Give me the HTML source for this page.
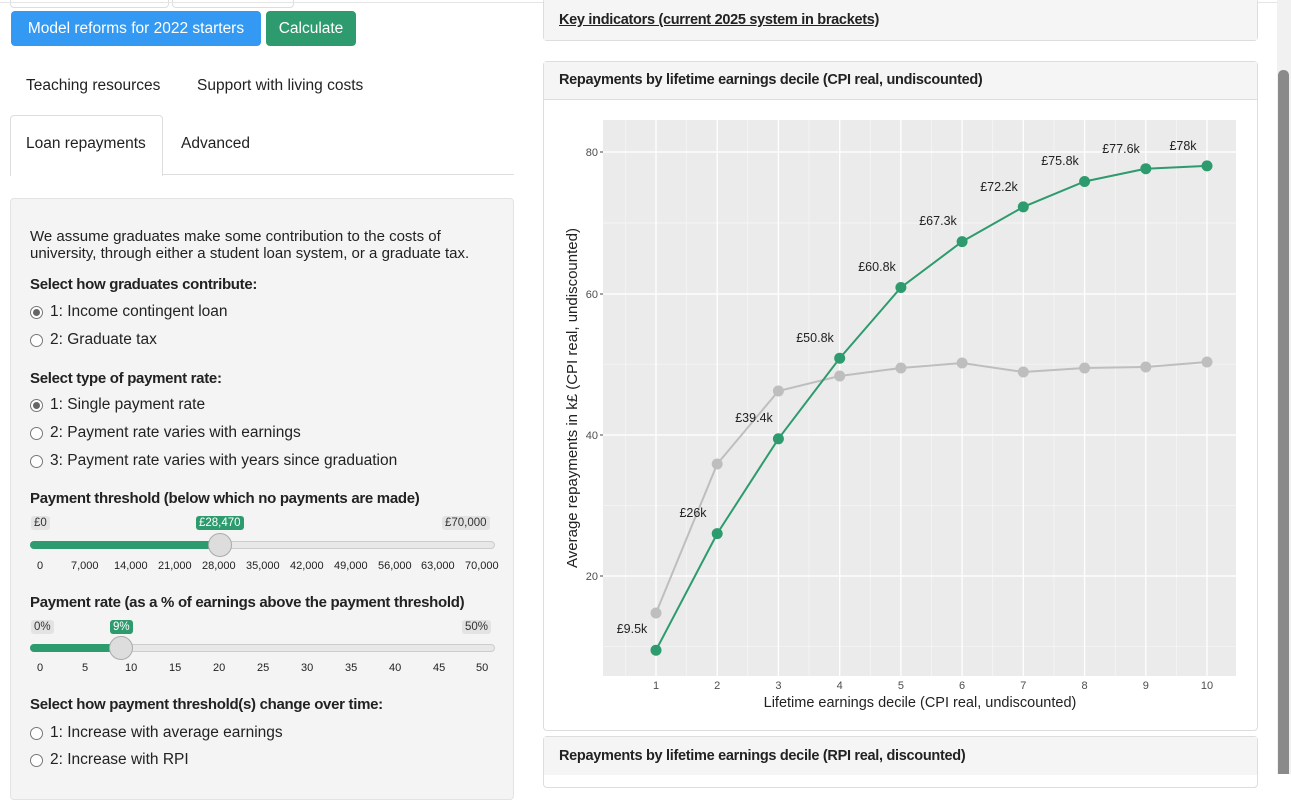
<!DOCTYPE html>
<html><head><meta charset="utf-8"><style>
body{margin:0;width:1291px;height:774px;overflow:hidden;background:#fff;font-family:"Liberation Sans",sans-serif;color:#222;position:relative}
.a{position:absolute;white-space:nowrap}
.btn{position:absolute;top:11px;height:35px;border-radius:4px;color:#fff;font-size:15.5px;line-height:35px;text-align:center}
.rad{position:absolute;width:11px;height:11px;border:1px solid #777;border-radius:50%;background:#fff;left:30px}
.rad.on::after{content:"";position:absolute;left:2px;top:2px;width:7px;height:7px;border-radius:50%;background:#666}
.t15{font-size:15.5px}
.b{font-weight:bold;font-size:15px;letter-spacing:-0.3px}
.tag{position:absolute;background:#e3e3e3;font-size:11.5px;padding:1px 3px;border-radius:3px;color:#333}
.tagg{position:absolute;background:#2e9b6e;font-size:11.5px;padding:1px 3px;border-radius:3px;color:#fff}
.panel{position:absolute;left:543px;width:713px;border:1px solid #ddd;border-radius:4px;background:#fff}
.ph{background:#f5f5f5;border-bottom:1px solid #ddd;font-weight:bold;font-size:14.5px;padding-left:15px;letter-spacing:-0.3px}
.tk{font-size:11px}
</style></head><body>
<div class="a" style="left:10px;top:-6px;width:157px;height:12px;border:1px solid #ddd;border-radius:4px"></div>
<div class="a" style="left:172px;top:-6px;width:120px;height:12px;border:1px solid #ddd;border-radius:4px"></div>
<div class="a" style="left:0;top:2px;width:1280px;border-top:1px solid #e5e5e5"></div>
<div class="btn" style="left:11px;width:250px;background:#3399f3">Model reforms for 2022 starters</div>
<div class="btn" style="left:266px;width:90px;background:#2e9b6e">Calculate</div>
<div class="a t15" style="left:26px;top:77px">Teaching resources</div>
<div class="a t15" style="left:197px;top:77px">Support with living costs</div>
<div class="a" style="left:10px;top:115px;width:151px;height:60px;border:1px solid #ddd;border-bottom:none;border-radius:4px 4px 0 0;background:#fff"></div>
<div class="a" style="left:162px;top:174px;width:352px;border-top:1px solid #ddd"></div>
<div class="a t15" style="left:26px;top:135px">Loan repayments</div>
<div class="a t15" style="left:181px;top:135px">Advanced</div>
<div class="a" style="left:10px;top:198px;width:502px;height:600px;background:#f4f4f4;border:1px solid #e3e3e3;border-radius:4px"></div>
<div class="a" style="left:30px;top:228px;line-height:17px;font-size:15px">We assume graduates make some contribution to the costs of<br>university, through either a student loan system, or a graduate tax.</div>
<div class="a b" style="left:30px;top:276px">Select how graduates contribute:</div>
<div class="rad on" style="top:306px"></div><div class="a t15" style="left:50px;top:303px">1: Income contingent loan</div>
<div class="rad" style="top:334px"></div><div class="a t15" style="left:50px;top:331px">2: Graduate tax</div>
<div class="a b" style="left:30px;top:370px">Select type of payment rate:</div>
<div class="rad on" style="top:399px"></div><div class="a t15" style="left:50px;top:396px">1: Single payment rate</div>
<div class="rad" style="top:427px"></div><div class="a t15" style="left:50px;top:424px">2: Payment rate varies with earnings</div>
<div class="rad" style="top:455px"></div><div class="a t15" style="left:50px;top:452px">3: Payment rate varies with years since graduation</div>
<div class="a b" style="left:30px;top:490px">Payment threshold (below which no payments are made)</div>
<div class="tag" style="left:31px;top:516px">£0</div>
<div class="tagg" style="left:196px;top:516px">£28,470</div>
<div class="tag" style="left:442px;top:516px">£70,000</div>
<div class="a" style="left:30px;top:541px;width:463px;height:6px;background:#e8e8e8;border:1px solid #ccc;border-radius:4px"></div>
<div class="a" style="left:30px;top:541px;width:190px;height:8px;background:#2e9b6e;border-radius:4px"></div>
<div class="a" style="left:208px;top:533px;width:22px;height:22px;border-radius:50%;background:#ddd;border:1px solid #aaa"></div>
<div class="a tk" style="left:0;top:560px;width:520px">
<span class="a" style="left:37px">0</span><span class="a" style="left:71px">7,000</span><span class="a" style="left:114px">14,000</span><span class="a" style="left:158px">21,000</span><span class="a" style="left:202px">28,000</span><span class="a" style="left:246px">35,000</span><span class="a" style="left:290px">42,000</span><span class="a" style="left:334px">49,000</span><span class="a" style="left:378px">56,000</span><span class="a" style="left:421px">63,000</span><span class="a" style="left:465px">70,000</span></div>
<div class="a b" style="left:30px;top:594px">Payment rate (as a % of earnings above the payment threshold)</div>
<div class="tag" style="left:31px;top:620px">0%</div>
<div class="tagg" style="left:110px;top:620px">9%</div>
<div class="tag" style="left:462px;top:620px">50%</div>
<div class="a" style="left:30px;top:644px;width:463px;height:6px;background:#e8e8e8;border:1px solid #ccc;border-radius:4px"></div>
<div class="a" style="left:30px;top:644px;width:100px;height:8px;background:#2e9b6e;border-radius:4px"></div>
<div class="a" style="left:109px;top:636px;width:22px;height:22px;border-radius:50%;background:#ddd;border:1px solid #aaa"></div>
<div class="a tk" style="left:0;top:662px;width:520px">
<span class="a" style="left:37px">0</span><span class="a" style="left:82px">5</span><span class="a" style="left:125px">10</span><span class="a" style="left:169px">15</span><span class="a" style="left:213px">20</span><span class="a" style="left:257px">25</span><span class="a" style="left:301px">30</span><span class="a" style="left:345px">35</span><span class="a" style="left:389px">40</span><span class="a" style="left:433px">45</span><span class="a" style="left:476px">50</span></div>
<div class="a b" style="left:30px;top:696px">Select how payment threshold(s) change over time:</div>
<div class="rad" style="top:727px"></div><div class="a t15" style="left:50px;top:724px">1: Increase with average earnings</div>
<div class="rad" style="top:754px"></div><div class="a t15" style="left:50px;top:751px">2: Increase with RPI</div>

<div class="panel" style="top:-2px;height:42px;border-top:none"><div class="ph" style="height:42px;line-height:44px;border:none;text-decoration:underline">Key indicators (current 2025 system in brackets)</div></div>
<div class="panel" style="top:61px;height:668px"><div class="ph" style="height:37px;line-height:37px">Repayments by lifetime earnings decile (CPI real, undiscounted)</div></div>
<div class="panel" style="top:736px;height:50px"><div class="ph" style="height:38px;line-height:38px;border:none">Repayments by lifetime earnings decile (RPI real, discounted)</div></div>
<div class="a" style="left:1277px;top:0;width:14px;height:774px;background:#f1f1f1"></div>
<div class="a" style="left:1278px;top:70px;width:11px;height:704px;background:#8a8a8a;border-radius:5px 5px 0 0"></div>

<svg class="a" style="left:0;top:0" width="1291" height="774" font-family="Liberation Sans, sans-serif">
<rect x="603" y="120" width="633" height="556" fill="#ebebeb"/>
<g stroke="#f7f7f7" stroke-width="0.7">
<line x1="603" x2="1236" y1="646.7" y2="646.7"/><line x1="603" x2="1236" y1="505.3" y2="505.3"/><line x1="603" x2="1236" y1="364.2" y2="364.2"/><line x1="603" x2="1236" y1="223" y2="223"/>
<line y1="120" y2="676" x1="625.4" x2="625.4"/><line y1="120" y2="676" x1="686.6" x2="686.6"/><line y1="120" y2="676" x1="747.8" x2="747.8"/><line y1="120" y2="676" x1="809" x2="809"/><line y1="120" y2="676" x1="870.3" x2="870.3"/><line y1="120" y2="676" x1="931.5" x2="931.5"/><line y1="120" y2="676" x1="992.7" x2="992.7"/><line y1="120" y2="676" x1="1054" x2="1054"/><line y1="120" y2="676" x1="1115.2" x2="1115.2"/><line y1="120" y2="676" x1="1176.4" x2="1176.4"/>
</g>
<g stroke="#fff" stroke-width="1.3">
<line x1="603" x2="1236" y1="576" y2="576"/><line x1="603" x2="1236" y1="435" y2="435"/><line x1="603" x2="1236" y1="294" y2="294"/><line x1="603" x2="1236" y1="152" y2="152"/>
<line y1="120" y2="676" x1="656" x2="656"/><line y1="120" y2="676" x1="717.2" x2="717.2"/><line y1="120" y2="676" x1="778.4" x2="778.4"/><line y1="120" y2="676" x1="839.7" x2="839.7"/><line y1="120" y2="676" x1="900.9" x2="900.9"/><line y1="120" y2="676" x1="962.1" x2="962.1"/><line y1="120" y2="676" x1="1023.3" x2="1023.3"/><line y1="120" y2="676" x1="1084.6" x2="1084.6"/><line y1="120" y2="676" x1="1145.8" x2="1145.8"/><line y1="120" y2="676" x1="1207" x2="1207" />
</g>
<g stroke="#444" stroke-width="1"><line x1="600" x2="603" y1="576" y2="576"/><line x1="600" x2="603" y1="435" y2="435"/><line x1="600" x2="603" y1="294" y2="294"/><line x1="600" x2="603" y1="152" y2="152"/></g>
<g font-size="11" fill="#4d4d4d" text-anchor="end"><text x="598" y="580">20</text><text x="598" y="439">40</text><text x="598" y="298">60</text><text x="598" y="156">80</text></g>
<g font-size="11" fill="#4d4d4d" text-anchor="middle"><text x="656" y="689">1</text><text x="717.2" y="689">2</text><text x="778.4" y="689">3</text><text x="839.7" y="689">4</text><text x="900.9" y="689">5</text><text x="962.1" y="689">6</text><text x="1023.3" y="689">7</text><text x="1084.6" y="689">8</text><text x="1145.8" y="689">9</text><text x="1207" y="689">10</text></g>
<text x="920" y="707" font-size="14.5" text-anchor="middle" fill="#222">Lifetime earnings decile (CPI real, undiscounted)</text>
<text transform="translate(577,398) rotate(-90)" font-size="15" text-anchor="middle" fill="#222">Average repayments in k£ (CPI real, undiscounted)</text>
<polyline fill="none" stroke="#bebebe" stroke-width="2" points="656,613 717.2,464 778.4,391 839.7,376 900.9,368 962.1,363 1023.3,372 1084.6,368 1145.8,367 1207,362"/>
<g fill="#bebebe"><circle cx="656" cy="613" r="5.5"/><circle cx="717.2" cy="464" r="5.5"/><circle cx="778.4" cy="391" r="5.5"/><circle cx="839.7" cy="376" r="5.5"/><circle cx="900.9" cy="368" r="5.5"/><circle cx="962.1" cy="363" r="5.5"/><circle cx="1023.3" cy="372" r="5.5"/><circle cx="1084.6" cy="368" r="5.5"/><circle cx="1145.8" cy="367" r="5.5"/><circle cx="1207" cy="362" r="5.5"/></g>
<polyline fill="none" stroke="#2e9b6e" stroke-width="2" points="656,650.2 717.2,533.6 778.4,438.8 839.7,358.2 900.9,287.5 962.1,241.6 1023.3,206.9 1084.6,181.5 1145.8,168.7 1207,165.9"/>
<g fill="#2e9b6e"><circle cx="656" cy="650.2" r="5.5"/><circle cx="717.2" cy="533.6" r="5.5"/><circle cx="778.4" cy="438.8" r="5.5"/><circle cx="839.7" cy="358.2" r="5.5"/><circle cx="900.9" cy="287.5" r="5.5"/><circle cx="962.1" cy="241.6" r="5.5"/><circle cx="1023.3" cy="206.9" r="5.5"/><circle cx="1084.6" cy="181.5" r="5.5"/><circle cx="1145.8" cy="168.7" r="5.5"/><circle cx="1207" cy="165.9" r="5.5"/></g>
<g font-size="12.5" fill="#222" text-anchor="middle">
<text x="632" y="633">£9.5k</text><text x="693" y="517">£26k</text><text x="754" y="422">£39.4k</text><text x="815" y="342">£50.8k</text><text x="877" y="271">£60.8k</text><text x="938" y="225">£67.3k</text><text x="999" y="191">£72.2k</text><text x="1060" y="165">£75.8k</text><text x="1121" y="153">£77.6k</text><text x="1183" y="150">£78k</text>
</g>
</svg>
</body></html>
